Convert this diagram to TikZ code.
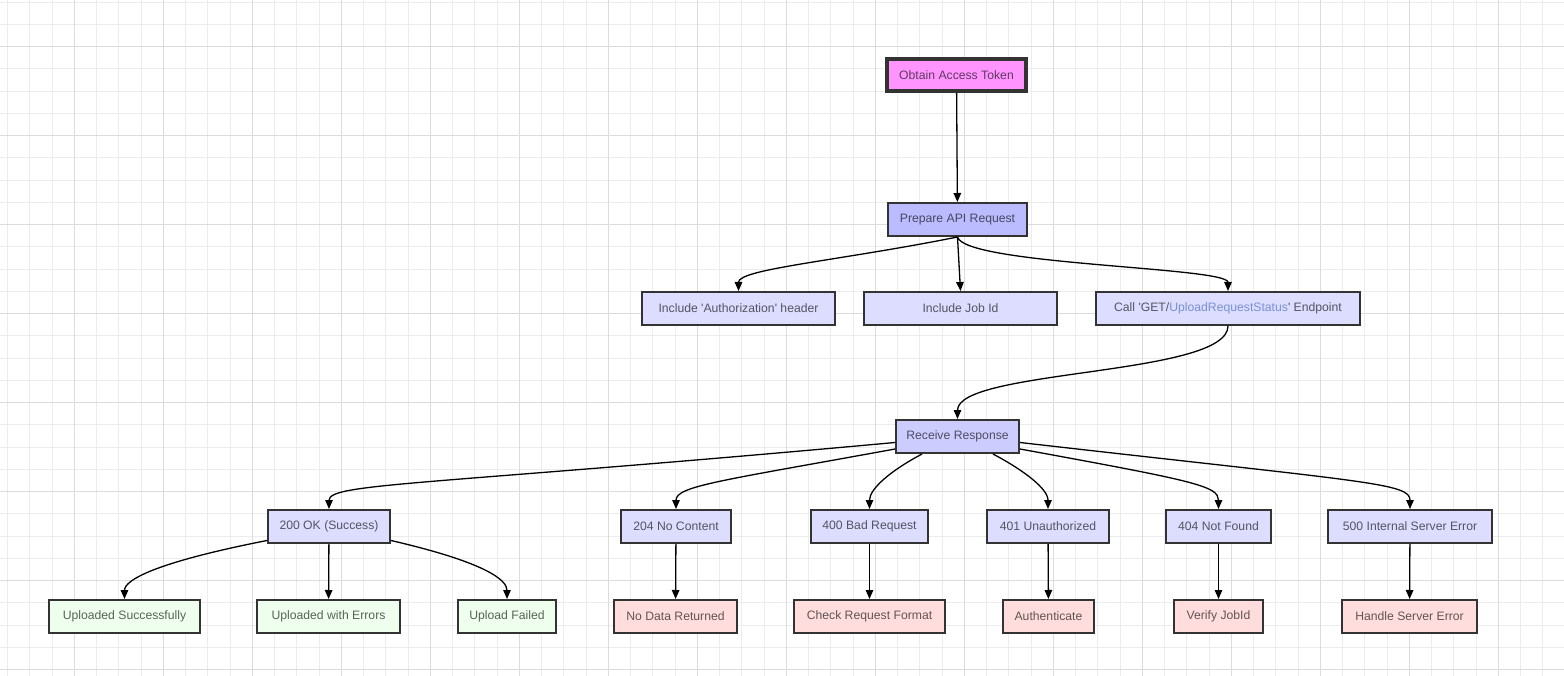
\documentclass[tikz,border=0pt]{standalone}
\usepackage{fontspec}
\setmainfont{Liberation Sans}[Ligatures=TeXOff]
\usetikzlibrary{arrows.meta,calc}
\definecolor{gridminor}{HTML}{ECECEC}
\definecolor{gridmajor}{HTML}{DCDCDC}
\definecolor{bordc}{HTML}{333333}
\definecolor{pinkf}{HTML}{FF94FF}
\definecolor{prepf}{HTML}{BBBBFF}
\definecolor{recf}{HTML}{CCCCFF}
\definecolor{lavf}{HTML}{DDDDFF}
\definecolor{greenf}{HTML}{EEFFEE}
\definecolor{redf}{HTML}{FFDDDD}
\definecolor{linkc}{HTML}{3A64B8}
\begin{document}
\begin{tikzpicture}[x=1pt,y=-1pt,
  box/.style={draw=bordc, line width=2pt, inner sep=0pt, minimum height=33pt,
    text=black, text opacity=0.62, font=\fontsize{12.2}{14}\selectfont},
  lav/.style={box, fill=lavf},
  grn/.style={box, fill=greenf},
  red/.style={box, fill=redf},
  edge/.style={line width=1.3pt, draw=black, -{Triangle[length=9pt,width=7.5pt]}},
]
\useasboundingbox (0,0) rectangle (1564,676);
\fill[white] (0,0) rectangle (1564,676);
% grid
\foreach \i in {0,...,69} {\draw[gridminor, line width=0.9pt] ({7.5+22.25*\i},0) -- ({7.5+22.25*\i},676);}
\foreach \i in {0,...,30} {\draw[gridminor, line width=0.9pt] (0,{2+22.25*\i}) -- (1564,{2+22.25*\i});}
\foreach \i in {0,...,16} {\draw[gridmajor, line width=1.1pt] ({74.25+89*\i},0) -- ({74.25+89*\i},676);}
\foreach \i in {0,...,7} {\draw[gridmajor, line width=1.1pt] (0,{46.5+89*\i}) -- (1564,{46.5+89*\i});}

% nodes
\node[box, fill=pinkf, line width=4pt, minimum width=139pt, minimum height=32pt] (tok) at (956.5,75) {Obtain Access Token};
\node[box, fill=prepf, minimum width=139pt] (prep) at (957.5,219.5) {Prepare API Request};
\node[lav, minimum width=193pt] (auth) at (738.5,308.5) {Include 'Authorization' header};
\node[lav, minimum width=193pt] (job) at (960.5,308.5) {Include Job Id};
\node[lav, minimum width=264pt] (call) at (1228,308.5) {Call 'GET/\textcolor{linkc}{UploadRequestStatus}' Endpoint};
\node[box, fill=recf, minimum width=123pt] (rec) at (957.5,436.5) {Receive Response};

\node[lav, minimum width=122pt] (s200) at (329,526.5) {200 OK (Success)};
\node[lav, minimum width=110pt] (s204) at (676,526.5) {204 No Content};
\node[lav, minimum width=117pt] (s400) at (869.5,526.5) {400 Bad Request};
\node[lav, minimum width=122pt] (s401) at (1048,526.5) {401 Unauthorized};
\node[lav, minimum width=105pt] (s404) at (1218.5,526.5) {404 Not Found};
\node[lav, minimum width=164pt] (s500) at (1410,526.5) {500 Internal Server Error};

\node[grn, minimum width=151pt] (ok1) at (124.5,616.5) {Uploaded Successfully};
\node[grn, minimum width=143pt] (ok2) at (328.5,616.5) {Uploaded with Errors};
\node[grn, minimum width=98pt] (ok3) at (507,616.5) {Upload Failed};
\node[red, minimum width=123pt] (e204) at (675.5,616.5) {No Data Returned};
\node[red, minimum width=151pt] (e400) at (869.5,616.5) {Check Request Format};
\node[red, minimum width=91pt] (e401) at (1048.5,616.5) {Authenticate};
\node[red, minimum width=89pt] (e404) at (1218.5,616.5) {Verify JobId};
\node[red, minimum width=135pt] (e500) at (1409.5,616.5) {Handle Server Error};

% edges
\draw[edge] (tok) -- (prep);
\draw[edge] (prep.south) .. controls +(-120,24) and +(0,-22) .. (auth.north);
\draw[edge] (prep.south) -- (job.north);
\draw[edge] (prep.south) .. controls +(8,28) and +(0,-24) .. (call.north);
\draw[edge] (call.south) .. controls +(0,50) and +(0,-50) .. (rec.north);

\draw[edge] ([yshift=-6pt]rec.west) .. controls +(-470,43) and +(0,-26) .. (s200.north);
\draw[edge] ([yshift=-12.5pt]rec.west) .. controls +(-175,32) and +(0,-23) .. (s204.north);
\draw[edge] ([xshift=-35.5pt]rec.south) .. controls +(-32,17) and +(0,-20) .. (s400.north);
\draw[edge] ([xshift=35.5pt]rec.south) .. controls +(32,17) and +(0,-20) .. (s401.north);
\draw[edge] ([yshift=-12.5pt]rec.east) .. controls +(175,32) and +(0,-23) .. (s404.north);
\draw[edge] ([yshift=-6pt]rec.east) .. controls +(350,40) and +(0,-26) .. (s500.north);

\draw[edge] ([yshift=-14pt]s200.west) .. controls +(-112,22) and +(0,-19) .. (ok1.north);
\draw[edge] (s200) -- (ok2);
\draw[edge] ([yshift=-14pt]s200.east) .. controls +(95,22) and +(0,-19) .. (ok3.north);
\draw[edge] (s204) -- (e204);
\draw[edge] (s400) -- (e400);
\draw[edge] (s401) -- (e401);
\draw[edge] (s404) -- (e404);
\draw[edge] (s500) -- (e500);
\end{tikzpicture}
\end{document}
